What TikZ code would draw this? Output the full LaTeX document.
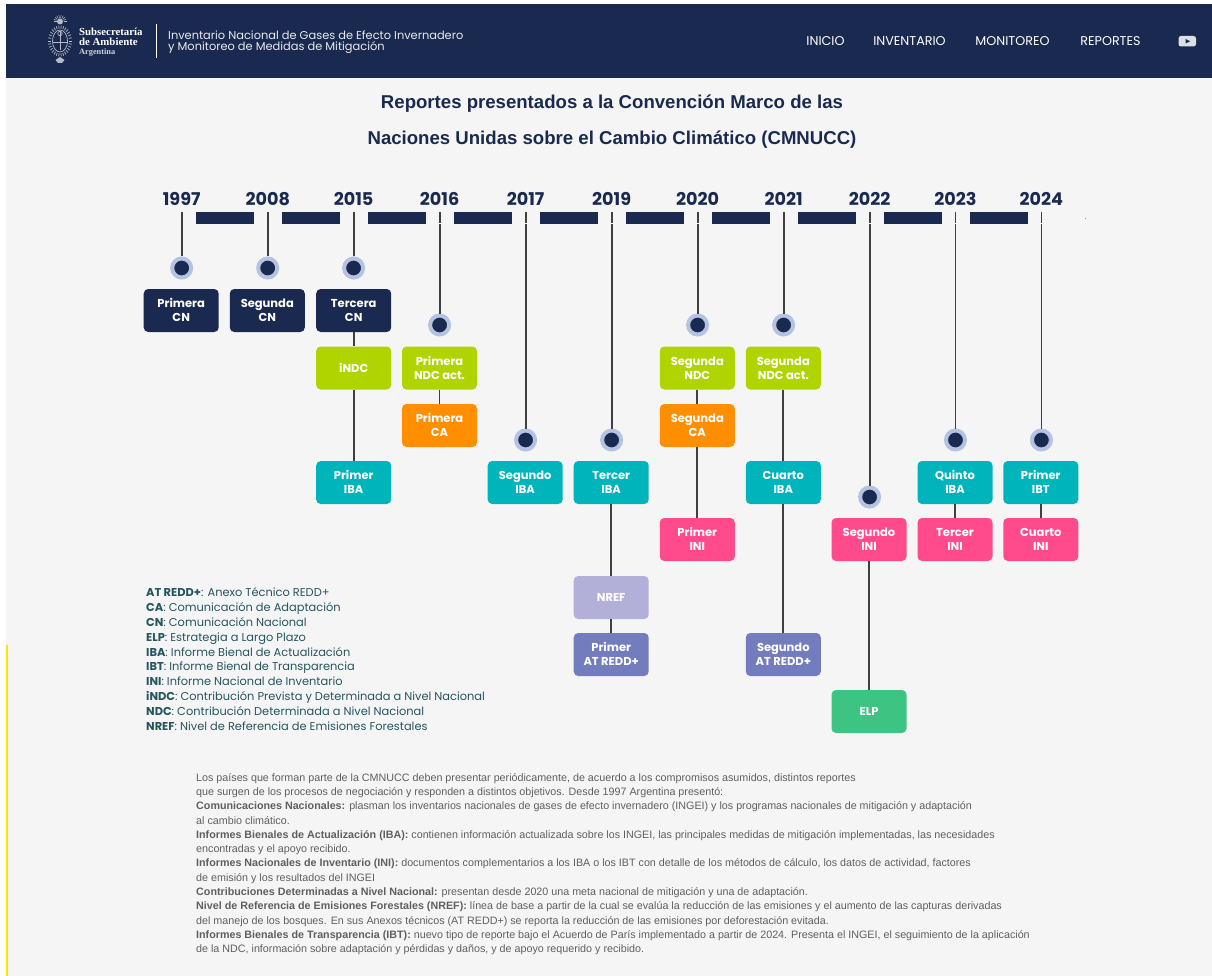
\documentclass[tikz,border=0pt]{standalone}
\usepackage{fontspec}
\setmainfont{Poppins}
\newfontfamily\arial{Liberation Sans}
\newfontfamily\serifb{Liberation Serif}
\newcommand\tlines[2]{\makebox[0pt]{\raisebox{2.6pt}[0pt][0pt]{#1}}\makebox[0pt]{\raisebox{-11.4pt}[0pt][0pt]{#2}}}
\newcommand\tone[1]{\makebox[0pt]{\raisebox{-4.2pt}[0pt][0pt]{#1}}}
\definecolor{navy}{HTML}{1A294F}
\definecolor{pagebg}{HTML}{F5F5F5}
\definecolor{lime}{HTML}{B0D400}
\definecolor{orng}{HTML}{FF8F00}
\definecolor{teal}{HTML}{00B4BC}
\definecolor{pinkc}{HTML}{FF4B8B}
\definecolor{lilac}{HTML}{B2B0D8}
\definecolor{indi}{HTML}{737CBC}
\definecolor{greenc}{HTML}{3DC483}
\definecolor{halo}{HTML}{B4C3E2}
\definecolor{legend}{HTML}{25565F}
\definecolor{bodyt}{HTML}{5F5F5F}
\definecolor{logoc}{HTML}{B5BBC9}
\tikzset{x=1pt,y=-1pt,
 box/.style={rounded corners=4.5pt,minimum width=75pt,minimum height=43pt,inner sep=0pt,text=white,font=\fontsize{11.5}{14}\selectfont\bfseries},
 cn/.style={box,fill=navy},ndc/.style={box,fill=lime},ca/.style={box,fill=orng},iba/.style={box,fill=teal},
 ini/.style={box,fill=pinkc},nref/.style={box,fill=lilac},atr/.style={box,fill=indi},elp/.style={box,fill=greenc},
 yr/.style={text=navy,font=\fontsize{17.6}{20}\selectfont\bfseries,inner sep=0pt,text height=12.5pt,text depth=0pt},
 dot/.style={circle,fill=navy,draw=halo,line width=4pt,minimum size=19pt,inner sep=0pt},
 stem/.style={draw=black!75,line width=1.8pt},
 seg/.style={fill=navy,draw=none},
 nav/.style={text=white,font=\fontsize{12.7}{14}\selectfont,inner sep=0pt},
 leg/.style={anchor=west,text=legend,inner sep=0pt,font=\fontsize{11.4}{13}\selectfont},
 para/.style={anchor=west,text=bodyt,inner sep=0pt,font=\arial\fontsize{10.73}{12}\selectfont},
 ttl/.style={text=navy,inner sep=0pt,font=\arial\fontsize{18.6}{21}\selectfont\bfseries},
}
\begin{document}
\begin{tikzpicture}
\useasboundingbox (0,0) rectangle (1212,976);
\fill[white] (0,0) rectangle (1212,976);
\fill[pagebg] (6,4) rectangle (1212,976);
\fill[navy] (6,4) rectangle (1212,78);
\fill[yellow!85!orange] (6,645) rectangle (8,976);
% logo
\foreach \a in {0,12,...,348} {\draw[logoc,line width=.7pt] ({60+9*cos(\a)},{41+12.5*sin(\a)}) -- ({60+12*cos(\a)},{41+15.5*sin(\a)});}
\draw[logoc,line width=.7pt] (60,41) ellipse (7.5pt and 11pt);
\draw[logoc,line width=.7pt] (52.5,42) -- (67.5,42) (60,32) -- (60,50);
\draw[logoc,line width=.7pt] (60,33.5) circle (2.2pt);
\fill[logoc] (60,21.5) circle (3pt);
\foreach \a in {180,200,...,360} {\draw[logoc,line width=.5pt] ({60+3.5*cos(\a)},{21.5+3.5*sin(\a)}) -- ({60+6.5*cos(\a)},{21.5+6.5*sin(\a)});}
\fill[logoc] (55.5,60) -- (60,57) -- (64.5,60) -- (62,63) -- (58,63) -- cycle;
\node[anchor=west,inner sep=0pt,text=white] (logoa) at (79,32) {\serifb\bfseries\fontsize{10.8}{12}\selectfont Subsecretaría};
\node[anchor=west,inner sep=0pt,text=white] (logob) at (79,42) {\serifb\bfseries\fontsize{10.8}{12}\selectfont de Ambiente};
\node[anchor=west,inner sep=0pt,text=white!80!navy] (logoc) at (79,53) {\serifb\bfseries\fontsize{8.3}{10}\selectfont Argentina};
\draw[white,line width=.8pt] (156.5,24.5) -- (156.5,58);
\node[anchor=west,inner sep=0pt,text=white!90!navy] (site1) at (168,35) {\fontsize{11.4}{13.5}\selectfont Inventario Nacional de Gases de Efecto Invernadero};
\node[anchor=west,inner sep=0pt,text=white!90!navy] (site2) at (168,48) {\fontsize{11.4}{13.5}\selectfont y Monitoreo de Medidas de Mitigación};
\node[nav] (n1) at (825.5,41) {INICIO};
\node[nav] (n2) at (909.5,41) {INVENTARIO};
\node[nav] (n3) at (1012.5,41) {MONITOREO};
\node[nav] (n4) at (1110.5,41) {REPORTES};
\fill[white!85!navy,rounded corners=2.5pt] (1178.5,36) rectangle (1196,46.5);
\fill[navy] (1185.5,39) -- (1190,41.25) -- (1185.5,43.5) -- cycle;
% title
\node[ttl] (t1) at (612,103.5) {Reportes presentados a la Convención Marco de las};
\node[ttl] (t2) at (612,139.5) {Naciones Unidas sobre el Cambio Climático (CMNUCC)};
% bars
\foreach \i in {0,...,9} {\fill[seg] (196+86*\i,212) rectangle ++(57.5,12);}
\fill[black!40] (1084.7,217.7) rectangle ++(.7,.7);
% years + stems + dots
\foreach \nm/\x/\y/\lab in {a/181.7/268/1997,b/267.7/268/2008,c/353.6/268/2015,d/439.6/325/2016,e/525.6/440/2017,f/611.6/440/2019,g/697.6/325/2020,h/783.6/325/2021,i/869.6/497/2022,j/955.5/440/2023,k/1041.4/440/2024} {
 \node[yr] (y\nm) at (\x,199.5) {\lab};
 \coordinate (s\nm) at (\x,212);
 \node[dot] (d\nm) at (\x,\y) {};
 \draw[stem] (s\nm) -- (d\nm);
}
\foreach \x in {439.6,525.6,611.6,697.6,869.6,955.5,1041.4} {\fill[white] (\x-1,223.2) rectangle ++(2,1.2);}
% boxes
\node[cn] (b1) at (181.2,310.5) {\tlines{Primera}{CN}};
\node[cn] (b2) at (267.3,310.5) {\tlines{Segunda}{CN}};
\node[cn] (b3) at (353.7,310.5) {\tlines{Tercera}{CN}};
\node[ndc] (b4) at (353.7,368) {\tone{iNDC}};
\node[iba] (b5) at (353.7,482.5) {\tlines{Primer}{IBA}};
\node[ndc] (c1) at (439.5,368) {\tlines{Primera}{NDC act.}};
\node[ca] (c2) at (439.5,425.5) {\tlines{Primera}{CA}};
\node[iba] (e1) at (525.2,482.5) {\tlines{Segundo}{IBA}};
\node[iba] (f1) at (611.2,482.5) {\tlines{Tercer}{IBA}};
\node[nref] (f2) at (611.2,597.5) {\tone{NREF}};
\node[atr] (f3) at (611.2,654.5) {\tlines{Primer}{AT REDD+}};
\node[ndc] (g1) at (697.3,368) {\tlines{Segunda}{NDC}};
\node[ca] (g2) at (697.3,425.5) {\tlines{Segunda}{CA}};
\node[ini] (g3) at (697.3,539.5) {\tlines{Primer}{INI}};
\node[ndc] (h1) at (783.3,368) {\tlines{Segunda}{NDC act.}};
\node[iba] (h2) at (783.3,482.5) {\tlines{Cuarto}{IBA}};
\node[atr] (h3) at (783.3,654.5) {\tlines{Segundo}{AT REDD+}};
\node[ini] (i1) at (869,539.5) {\tlines{Segundo}{INI}};
\node[elp] (i2) at (869,711.5) {\tone{ELP}};
\node[iba] (j1) at (955,482.5) {\tlines{Quinto}{IBA}};
\node[ini] (j2) at (955,539.5) {\tlines{Tercer}{INI}};
\node[iba] (k1) at (1040.8,482.5) {\tlines{Primer}{IBT}};
\node[ini] (k2) at (1040.8,539.5) {\tlines{Cuarto}{INI}};
% links
\foreach \p/\q in {b3/b4,b4/b5,c1/c2,f1/f2,f2/f3,g1/g2,g2/g3,h1/h2,h2/h3,i1/i2,j1/j2,k1/k2} {\draw[stem] (\p) -- (\q);}
% legend
\foreach \yy/\k/\v in {593.7/AT REDD+/Anexo Técnico REDD+,608.5/CA/Comunicación de Adaptación,623.2/CN/Comunicación Nacional,638.2/ELP/Estrategia a Largo Plazo,653/IBA/Informe Bienal de Actualización,667.7/IBT/Informe Bienal de Transparencia,682.5/INI/Informe Nacional de Inventario,697.2/iNDC/Contribución Prevista y Determinada a Nivel Nacional,712.2/NDC/Contribución Determinada a Nivel Nacional,727/NREF/Nivel de Referencia de Emisiones Forestales} {
 \node[leg,text height=8.5pt,text depth=2.5pt] at (146,\yy) {\textbf{\k}: \v};
}
% body
\foreach \nm/\yy/\tx in {
 p1/778.2/{Los países que forman parte de la CMNUCC deben presentar periódicamente, de acuerdo a los compromisos asumidos, distintos reportes},
 p2/792.5/{que surgen de los procesos de negociación y responden a distintos objetivos. Desde 1997 Argentina presentó:},
 p3/806.8/{\textbf{Comunicaciones Nacionales:} plasman los inventarios nacionales de gases de efecto invernadero (INGEI) y los programas nacionales de mitigación y adaptación},
 p4/821.2/{al cambio climático.},
 p5/835.5/{\textbf{Informes Bienales de Actualización (IBA):} contienen información actualizada sobre los INGEI, las principales medidas de mitigación implementadas, las necesidades},
 p6/849.8/{encontradas y el apoyo recibido.},
 p7/864.1/{\textbf{Informes Nacionales de Inventario (INI):} documentos complementarios a los IBA o los IBT con detalle de los métodos de cálculo, los datos de actividad, factores},
 p8/878.4/{de emisión y los resultados del INGEI},
 p9/892.7/{\textbf{Contribuciones Determinadas a Nivel Nacional:} presentan desde 2020 una meta nacional de mitigación y una de adaptación.},
 p10/907/{\textbf{Nivel de Referencia de Emisiones Forestales (NREF):} línea de base a partir de la cual se evalúa la reducción de las emisiones y el aumento de las capturas derivadas},
 p11/921.3/{del manejo de los bosques. En sus Anexos técnicos (AT REDD+) se reporta la reducción de las emisiones por deforestación evitada.},
 p12/935.6/{\textbf{Informes Bienales de Transparencia (IBT):} nuevo tipo de reporte bajo el Acuerdo de París implementado a partir de 2024. Presenta el INGEI, el seguimiento de la aplicación},
 p13/949.9/{de la NDC, información sobre adaptación y pérdidas y daños, y de apoyo requerido y recibido.}} {
 \node[para,text height=8pt,text depth=2.3pt] (\nm) at (196,\yy) {\tx};
}
\end{tikzpicture}
\end{document}
